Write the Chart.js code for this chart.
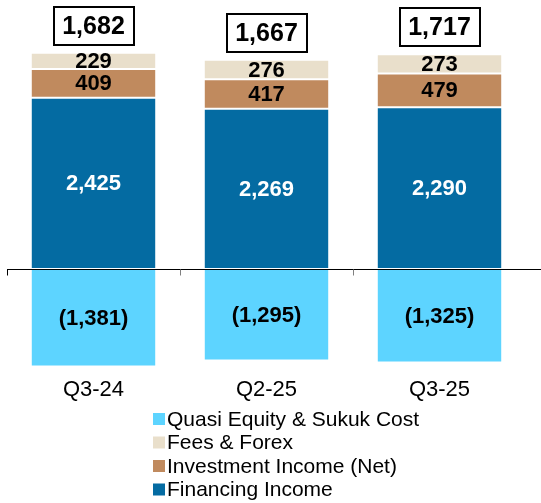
<!DOCTYPE html>
<html><head><meta charset="utf-8">
<script src="https://cdn.jsdelivr.net/npm/chart.js@4/dist/chart.umd.min.js"></script>
<style>html,body{margin:0;padding:0;background:#fff;}#wrap{width:541px;height:503px;position:relative;}</style>
</head><body><div id="wrap"><canvas id="c" width="541" height="503"></canvas></div>
<script>
const categories = ['Q3-24', 'Q2-25', 'Q3-25'];
const financingIncome = [2425, 2269, 2290];
const investmentIncome = [409, 417, 479];
const feesForex = [229, 276, 273];
const quasiEquityCost = [-1381, -1295, -1325];
const totals = [1682, 1667, 1717];
const seriesNames = ['Financing Income', 'Investment Income (Net)', 'Fees & Forex', 'Quasi Equity & Sukuk Cost'];
const legendOrder = ['Quasi Equity & Sukuk Cost', 'Fees & Forex', 'Investment Income (Net)', 'Financing Income'];

const COLORS = {
  'Financing Income': '#046BA2',
  'Investment Income (Net)': '#C08A5E',
  'Fees & Forex': '#E9DFCB',
  'Quasi Equity & Sukuk Cost': '#5DD4FF'
};
const LABEL_COLORS = {
  'Financing Income': '#ffffff',
  'Investment Income (Net)': '#000000',
  'Fees & Forex': '#000000',
  'Quasi Equity & Sukuk Cost': '#000000'
};
const FONT = '"Liberation Sans", Arial, Helvetica, sans-serif';
const seriesData = [financingIncome, investmentIncome, feesForex, quasiEquityCost];

function fmt(v) {
  const s = Math.abs(v).toLocaleString('en-US');
  return v < 0 ? '(' + s + ')' : s;
}

const overlay = {
  id: 'overlay',
  afterDatasetsDraw(chart) {
    const ctx = chart.ctx;
    const xs = chart.scales.x, ys = chart.scales.y;
    const zeroY = ys.getPixelForValue(0);
    ctx.save();
    // segment labels
    chart.data.datasets.forEach((ds, di) => {
      const meta = chart.getDatasetMeta(di);
      meta.data.forEach((el, i) => {
        const v = ds.data[i];
        const cy = (el.y + el.base) / 2;
        ctx.font = 'bold 22px ' + FONT;
        ctx.fillStyle = LABEL_COLORS[ds.label];
        ctx.textAlign = 'center';
        ctx.textBaseline = 'middle';
        ctx.fillText(fmt(v), el.x, cy + 1);
      });
    });
    // axis line and ticks
    const catW = (xs.right - xs.left) / categories.length;
    ctx.strokeStyle = '#000';
    ctx.lineWidth = 1;
    ctx.beginPath();
    ctx.moveTo(xs.left, Math.round(zeroY) + 0.5);
    ctx.lineTo(chart.width, Math.round(zeroY) + 0.5);
    ctx.stroke();
    for (let i = 0; i < categories.length; i++) {
      const tx = Math.round(xs.left + i * catW) + 0.5;
      ctx.strokeStyle = i === 0 ? '#000' : '#808080';
      ctx.beginPath();
      ctx.moveTo(tx, Math.round(zeroY) + 0.5);
      ctx.lineTo(tx, Math.round(zeroY) + 6.5);
      ctx.stroke();
    }
    // category labels
    ctx.fillStyle = '#000';
    ctx.font = '22px ' + FONT;
    ctx.textAlign = 'center';
    ctx.textBaseline = 'middle';
    categories.forEach((c, i) => {
      ctx.fillText(c, xs.getPixelForValue(i), zeroY + 121);
    });
    // total boxes
    categories.forEach((c, i) => {
      let top = zeroY;
      chart.data.datasets.forEach((ds, di) => {
        const el = chart.getDatasetMeta(di).data[i];
        if (ds.data[i] > 0) top = Math.min(top, el.y);
      });
      const cx = xs.getPixelForValue(i);
      const bw = 80, bh = 38;
      const by = top - 8 - bh;
      ctx.fillStyle = '#fff';
      ctx.fillRect(cx - bw / 2, by, bw, bh);
      ctx.strokeStyle = '#000';
      ctx.lineWidth = 2;
      ctx.strokeRect(Math.round(cx - bw / 2), Math.round(by), bw, bh);
      ctx.fillStyle = '#000';
      ctx.font = 'bold 25px ' + FONT;
      ctx.fillText(totals[i].toLocaleString('en-US'), cx, by + bh / 2 + 1);
    });
    // legend
    ctx.font = '21px ' + FONT;
    ctx.textAlign = 'left';
    ctx.textBaseline = 'middle';
    legendOrder.forEach((name, k) => {
      const cy = 419 + k * 23.5;
      ctx.fillStyle = COLORS[name];
      ctx.fillRect(153, cy - 6, 12, 12);
      ctx.fillStyle = '#000';
      ctx.fillText(name, 167, cy + 1);
    });
    ctx.restore();
  }
};

new Chart(document.getElementById('c'), {
  type: 'bar',
  data: {
    labels: categories,
    datasets: seriesNames.map((name, k) => ({
      label: name,
      data: seriesData[k],
      backgroundColor: COLORS[name],
      borderColor: '#ffffff',
      borderWidth: 1,
      borderSkipped: false,
      barPercentage: 0.725,
      categoryPercentage: 1.0
    }))
  },
  options: {
    responsive: false,
    animation: false,
    devicePixelRatio: 1,
    layout: { padding: { left: 7, right: 15, top: 0, bottom: 0 } },
    plugins: { legend: { display: false }, tooltip: { enabled: false } },
    scales: {
      x: { stacked: true, display: false },
      y: { stacked: true, display: false, min: -3314, max: 3810 }
    }
  },
  plugins: [overlay]
});
</script>
</body></html>
